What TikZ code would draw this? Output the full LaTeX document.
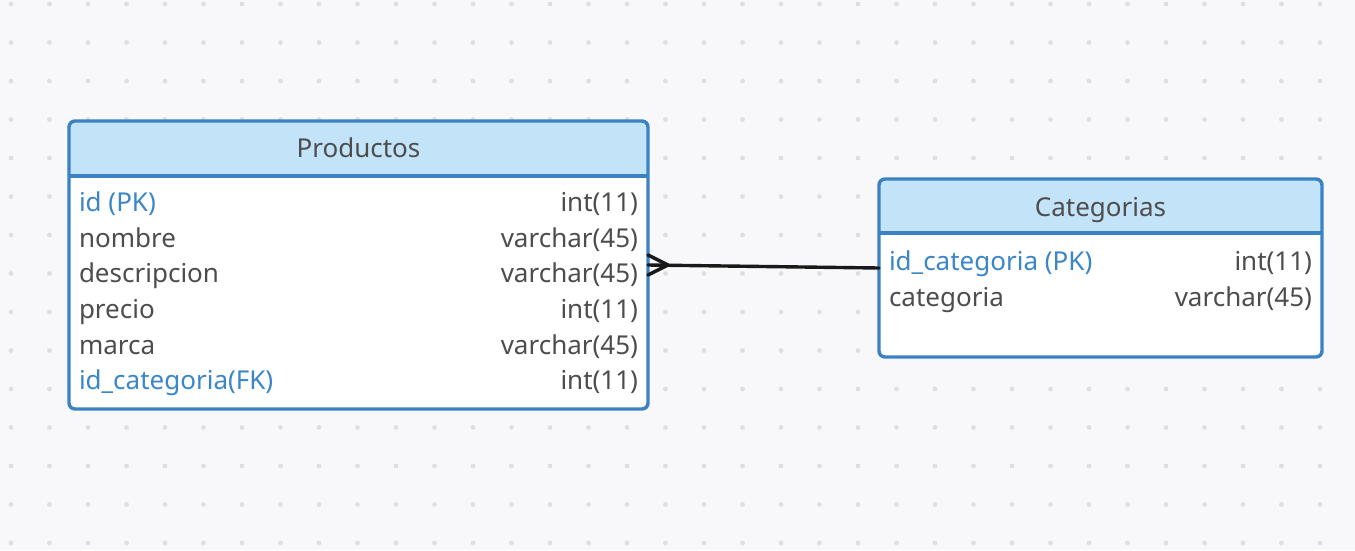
\documentclass[tikz,border=0pt]{standalone}
\usepackage{fontspec}
\setmainfont{Noto Sans}
\usepackage{tikz}
\usetikzlibrary{calc}

\definecolor{bgpaper}{HTML}{F8F8FB}
\definecolor{griddot}{HTML}{DEDFE3}
\definecolor{tblblue}{HTML}{3B82C4}
\definecolor{headfill}{HTML}{C3E4F8}
\definecolor{txtgray}{HTML}{4D4D4D}
\definecolor{keyblue}{HTML}{3A86C8}

\begin{document}
\begin{tikzpicture}[
    x=1pt, y=-1pt,
    every node/.style={font=\fontsize{26}{30}\selectfont, text=txtgray, inner sep=0pt, outer sep=0pt},
    tblbody/.style={rectangle, rounded corners=6pt, fill=white, inner sep=0pt, outer sep=0pt},
    tblborder/.style={draw=tblblue, line width=3.4pt, rounded corners=6pt},
    title/.style={anchor=base},
    colname/.style={anchor=base west},
    coltype/.style={anchor=base east},
    keycol/.style={colname, text=keyblue},
    relation/.style={draw=black!90, line width=3.4pt, line cap=round, line join=round}
]
% background and dot grid
\fill[bgpaper] (0,0) rectangle (1355,550);
\useasboundingbox (0,0) rectangle (1355,550);
\foreach \i in {0,...,34}
  \foreach \j in {0,...,14}
    \fill[griddot] (11+38.5*\i, 4+38.5*\j) circle (2.4);

% Productos table
\node[tblbody, minimum width=579pt, minimum height=288pt] (prod) at (358.5,265) {};
\fill[headfill] ($(prod.north west)+(0,55)$) [rounded corners=6pt] -- (prod.north west) -- (prod.north east) [sharp corners] -- ($(prod.north east)+(0,55)$) -- cycle;
\draw[tblborder] (prod.south west) rectangle (prod.north east);
\draw[draw=tblblue, line width=3.4pt] ($(prod.north west)+(0,55)$) -- ($(prod.north east)+(0,55)$);
\node[title] (prodtitle) at (358.5,157) {Productos};
\node[keycol] (prodid) at (79,211.7) {id (PK)};
\node[colname] (prodnombre) at (79,247.3) {nombre};
\node[colname] (proddesc) at (79,282.9) {descripcion};
\node[colname] (prodprecio) at (79,318.5) {precio};
\node[colname] (prodmarca) at (79,354.1) {marca};
\node[keycol] (prodfk) at (79,389.7) {id\_categoria(FK)};
\node[coltype] (prodidt) at (638,211.7) {int(11)};
\node[coltype] (prodnombret) at (638,247.3) {varchar(45)};
\node[coltype] (proddesct) at (638,282.9) {varchar(45)};
\node[coltype] (prodpreciot) at (638,318.5) {int(11)};
\node[coltype] (prodmarcat) at (638,354.1) {varchar(45)};
\node[coltype] (prodfkt) at (638,389.7) {int(11)};

% Categorias table
\node[tblbody, minimum width=443pt, minimum height=178pt] (cat) at (1100.5,268) {};
\fill[headfill] ($(cat.north west)+(0,54)$) [rounded corners=6pt] -- (cat.north west) -- (cat.north east) [sharp corners] -- ($(cat.north east)+(0,54)$) -- cycle;
\draw[tblborder] (cat.south west) rectangle (cat.north east);
\draw[draw=tblblue, line width=3.4pt] ($(cat.north west)+(0,54)$) -- ($(cat.north east)+(0,54)$);
\node[title] (cattitle) at (1100.5,216) {Categorias};
\node[keycol] (catid) at (889,270) {id\_categoria (PK)};
\node[colname] (catnombre) at (889,306) {categoria};
\node[coltype] (catidt) at (1312,270) {int(11)};
\node[coltype] (catnombret) at (1312,306) {varchar(45)};

% relation: many Productos to one Categoria
\draw[relation] (prod.east) -- (cat.west);
\draw[relation] ($(prod.east)+(0,-10)$) -- ($(prod.east)+(20,0)$) -- ($(prod.east)+(0,10)$);
\end{tikzpicture}
\end{document}
